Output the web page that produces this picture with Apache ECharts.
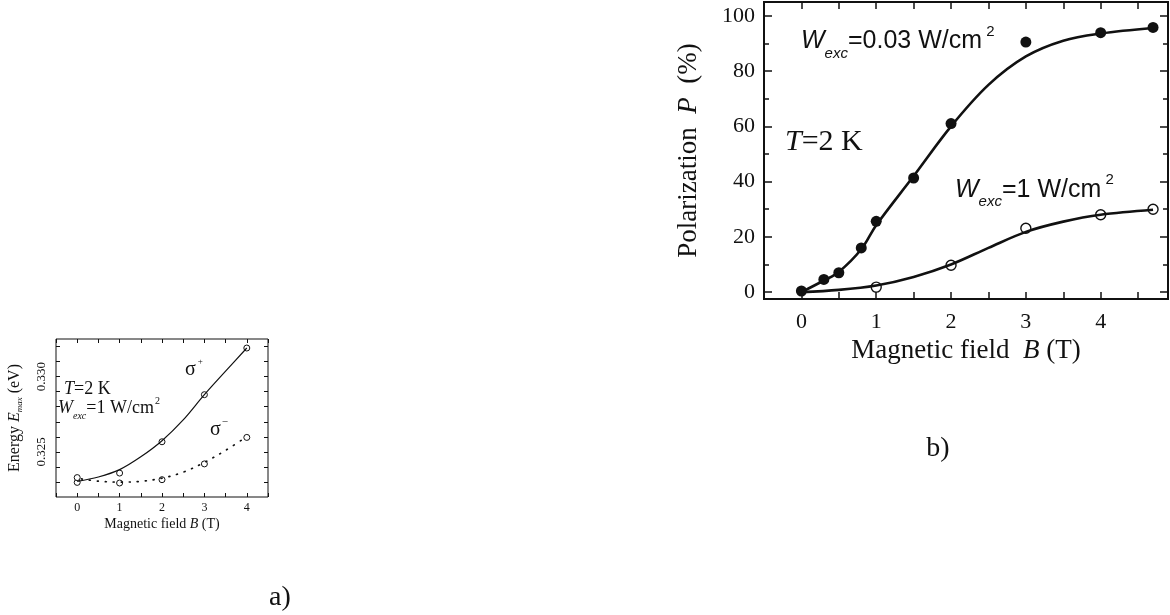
<!DOCTYPE html>
<html>
<head>
<meta charset="utf-8">
<script src="https://cdn.jsdelivr.net/npm/echarts@6/dist/echarts.min.js"></script>
<style>
html,body{margin:0;padding:0;background:#fff}
#chart{width:1170px;height:615px}
</style>
</head>
<body>
<div id="chart"></div>
<script>
// panel a) peak energy vs magnetic field
var aPlusB = [0, 1, 2, 3, 4];
var aPlusE = [0.32297, 0.32359, 0.32567, 0.3288, 0.3319];
var aMinusB = [0, 1, 2, 3, 4];
var aMinusE = [0.32329, 0.32293, 0.32315, 0.3242, 0.32596];
var aPlusFitB = [0, 0.5, 1, 1.5, 2, 2.5, 3, 3.5, 4];
var aPlusFitE = [0.32304, 0.32333, 0.32382, 0.32467, 0.32574, 0.32712, 0.3288, 0.33036, 0.3319];
var aMinusFitB = [0.1, 0.5, 1, 1.5, 2, 2.5, 3, 3.5, 3.95];
var aMinusFitE = [0.3232, 0.32305, 0.32299, 0.32304, 0.32325, 0.32365, 0.3243, 0.3251, 0.32592];
var aTickX = [-0.5, 0, 0.5, 1, 1.5, 2, 2.5, 3, 3.5, 4, 4.5];
var aLabelX = [0, 1, 2, 3, 4];
var aTickY = [0.323, 0.324, 0.325, 0.326, 0.327, 0.328, 0.329, 0.330, 0.331, 0.332];
var aLabelY = [0.325, 0.330];

// panel b) polarization vs magnetic field
var bFilledB = [0, 0.3, 0.5, 0.8, 1, 1.5, 2, 3, 4, 4.7];
var bFilledP = [0.4, 4.6, 7, 16, 25.6, 41.3, 61, 90.5, 93.9, 95.8];
var bOpenB = [1, 2, 3, 4, 4.7];
var bOpenP = [1.8, 9.7, 23.1, 28, 30];
var bFilledFitB = [0, 0.3, 0.5, 0.8, 1, 1.5, 2, 2.5, 3, 3.5, 4, 4.7];
var bFilledFitP = [0, 4.2, 7.3, 15.5, 24.2, 42, 60, 75, 85.3, 91, 93.6, 95.6];
var bOpenFitB = [0, 0.5, 1, 1.5, 2, 2.5, 3, 3.5, 4, 4.7];
var bOpenFitP = [0, 0.8, 2.4, 5.5, 10, 16, 21.8, 25.5, 28, 29.8];
var bTickX = [0, 0.5, 1, 1.5, 2, 2.5, 3, 3.5, 4, 4.5];
var bLabelX = [0, 1, 2, 3, 4];
var bMajorY = [0, 20, 40, 60, 80, 100];
var bMinorY = [10, 30, 50, 70, 90];

var serif = '"Liberation Serif", "Times New Roman", serif';
var sans = '"Liberation Sans", Arial, sans-serif';
var ink = '#111';

function pairs(xs, ys) {
	var out = [];
	for (var i = 0; i < xs.length; i++) {
		out.push([xs[i], ys[i]]);
	}
	return out;
}

function tickAxis(grid, pos, min, max, ticks, len, width, labels, extra) {
	var ax = {
		gridIndex: grid,
		type: 'value',
		position: pos,
		min: min,
		max: max,
		axisLine: {show: false, onZero: false},
		splitLine: {show: false},
		axisTick: {show: true, inside: true, length: len, customValues: ticks,
			lineStyle: {color: ink, width: width}},
		axisLabel: {show: false}
	};
	if (labels) {
		ax.axisLabel = labels;
	}
	for (var k in (extra || {})) {
		ax[k] = extra[k];
	}
	return ax;
}

var chart = echarts.init(document.getElementById('chart'));

var option = {
	animation: false,
	backgroundColor: '#fff',
	grid: [
		{left: 56, top: 339, width: 212, height: 158, show: true, borderColor: ink, borderWidth: 1,
			backgroundColor: 'transparent', outerBoundsMode: 'none'},
		{left: 764, top: 2, width: 404, height: 297, show: true, borderColor: ink, borderWidth: 2,
			backgroundColor: 'transparent', outerBoundsMode: 'none'}
	],
	xAxis: [
		tickAxis(0, 'bottom', -0.5, 4.5, aTickX, 4, 1, {
			show: true, customValues: aLabelX, margin: 5, color: ink,
			fontFamily: serif, fontSize: 12
		}, {
			name: 'Magnetic field {i|B} (T)', nameLocation: 'middle', nameGap: 20,
			nameTextStyle: {color: ink, fontFamily: serif, fontSize: 14,
				rich: {i: {fontFamily: serif, fontSize: 14, fontStyle: 'italic', color: ink}}}
		}),
		tickAxis(0, 'top', -0.5, 4.5, aTickX, 4, 1),
		tickAxis(1, 'bottom', -0.5, 4.9, bTickX, 7, 1.5, {
			show: true, customValues: bLabelX, margin: 12, color: ink,
			fontFamily: serif, fontSize: 22
		}, {
			name: 'Magnetic field  {i|B} (T)', nameLocation: 'middle', nameGap: 38,
			nameTextStyle: {color: ink, fontFamily: serif, fontSize: 27,
				rich: {i: {fontFamily: serif, fontSize: 27, fontStyle: 'italic', color: ink}}}
		}),
		tickAxis(1, 'top', -0.5, 4.9, bTickX, 7, 1.5)
	],
	yAxis: [
		tickAxis(0, 'left', 0.322, 0.3325, aTickY, 4, 1, {
			show: true, customValues: aLabelY, margin: 8, rotate: 90, color: ink,
			fontFamily: serif, fontSize: 13,
			formatter: function (v) { return v.toFixed(3); }
		}, {
			name: 'Energy {i|E}{s|max} (eV)', nameLocation: 'middle', nameGap: 32,
			nameTextStyle: {color: ink, fontFamily: serif, fontSize: 16,
				rich: {
					i: {fontFamily: serif, fontSize: 16, fontStyle: 'italic', color: ink},
					s: {fontFamily: serif, fontSize: 9, fontStyle: 'italic', color: ink, padding: [10, 0, 0, 0]}
				}}
		}),
		tickAxis(0, 'right', 0.322, 0.3325, aTickY, 4, 1),
		tickAxis(1, 'left', -2.5, 105, bMajorY, 8, 1.5, {
			show: true, customValues: bMajorY, margin: 9, color: ink,
			fontFamily: serif, fontSize: 22
		}, {
			name: 'Polarization  {i|P}  (%)', nameLocation: 'middle', nameGap: 62,
			nameTextStyle: {color: ink, fontFamily: serif, fontSize: 27,
				rich: {i: {fontFamily: serif, fontSize: 27, fontStyle: 'italic', color: ink}}}
		}),
		tickAxis(1, 'left', -2.5, 105, bMinorY, 5, 1.5),
		tickAxis(1, 'right', -2.5, 105, bMajorY, 8, 1.5),
		tickAxis(1, 'right', -2.5, 105, bMinorY, 5, 1.5)
	],
	series: [
		{type: 'line', xAxisIndex: 0, yAxisIndex: 0, data: pairs(aPlusFitB, aPlusFitE),
			smooth: 0.35, symbol: 'none', lineStyle: {color: ink, width: 1.2}},
		{type: 'line', xAxisIndex: 0, yAxisIndex: 0, data: pairs(aMinusFitB, aMinusFitE),
			smooth: 0.35, symbol: 'none',
			lineStyle: {color: ink, width: 1.7, type: [1, 7], cap: 'round'}},
		{type: 'scatter', xAxisIndex: 0, yAxisIndex: 0, data: pairs(aPlusB, aPlusE),
			symbol: 'circle', symbolSize: 6, itemStyle: {color: '#fff', borderColor: ink, borderWidth: 1, opacity: 1}},
		{type: 'scatter', xAxisIndex: 0, yAxisIndex: 0, data: pairs(aMinusB, aMinusE),
			symbol: 'circle', symbolSize: 6, itemStyle: {color: '#fff', borderColor: ink, borderWidth: 1, opacity: 1}},
		{type: 'line', xAxisIndex: 2, yAxisIndex: 2, data: pairs(bFilledFitB, bFilledFitP),
			smooth: 0.35, symbol: 'none', lineStyle: {color: ink, width: 2.6}},
		{type: 'line', xAxisIndex: 2, yAxisIndex: 2, data: pairs(bOpenFitB, bOpenFitP),
			smooth: 0.35, symbol: 'none', lineStyle: {color: ink, width: 2.6}},
		{type: 'scatter', xAxisIndex: 2, yAxisIndex: 2, data: pairs(bFilledB, bFilledP),
			symbol: 'circle', symbolSize: 11, itemStyle: {color: ink, opacity: 1}},
		{type: 'scatter', xAxisIndex: 2, yAxisIndex: 2, data: pairs(bOpenB, bOpenP),
			symbol: 'circle', symbolSize: 10, itemStyle: {color: '#fff', borderColor: ink, borderWidth: 1.4, opacity: 1}}
	],
	graphic: [
		// panel a annotations
		{type: 'text', x: 64, y: 389, style: {
			text: '{i|T}{n|=2 K}', align: 'left', verticalAlign: 'middle',
			rich: {
				i: {fontFamily: serif, fontSize: 18, fontStyle: 'italic', fill: ink},
				n: {fontFamily: serif, fontSize: 18, fill: ink}
			}}},
		{type: 'text', x: 58, y: 408, style: {
			text: '{i|W}{s|exc}{n|=1 W/cm}{p|2}', align: 'left', verticalAlign: 'middle',
			rich: {
				i: {fontFamily: serif, fontSize: 18, fontStyle: 'italic', fill: ink},
				s: {fontFamily: serif, fontSize: 10, fontStyle: 'italic', fill: ink, padding: [16, 0, 0, 0]},
				n: {fontFamily: serif, fontSize: 18, fill: ink},
				p: {fontFamily: serif, fontSize: 10, fill: ink, padding: [0, 0, 14, 1]}
			}}},
		{type: 'text', x: 185, y: 370, style: {
			text: '{g|σ}{p|+}', align: 'left', verticalAlign: 'middle',
			rich: {
				g: {fontFamily: serif, fontSize: 20, fill: ink},
				p: {fontFamily: serif, fontSize: 9, fill: ink, padding: [0, 0, 16, 2]}
			}}},
		{type: 'text', x: 210, y: 430, style: {
			text: '{g|σ}{p|−}', align: 'left', verticalAlign: 'middle',
			rich: {
				g: {fontFamily: serif, fontSize: 20, fill: ink},
				p: {fontFamily: serif, fontSize: 11, fill: ink, padding: [0, 0, 16, 1]}
			}}},
		{type: 'text', x: 280, y: 598, style: {
			text: 'a)', align: 'center', verticalAlign: 'middle',
			fontFamily: serif, fontSize: 28, fill: ink}},
		// panel b annotations
		{type: 'text', x: 801, y: 41.5, style: {
			text: '{i|W}{s|exc}{n|=0.03 W/cm}{p| 2}', align: 'left', verticalAlign: 'middle',
			rich: {
				i: {fontFamily: sans, fontSize: 25, fontStyle: 'italic', fill: ink},
				s: {fontFamily: sans, fontSize: 15, fontStyle: 'italic', fill: ink, padding: [24, 0, 0, 0]},
				n: {fontFamily: sans, fontSize: 25, fill: ink},
				p: {fontFamily: sans, fontSize: 15, fill: ink, padding: [0, 0, 20, 0]}
			}}},
		{type: 'text', x: 955, y: 190, style: {
			text: '{i|W}{s|exc}{n|=1 W/cm}{p| 2}', align: 'left', verticalAlign: 'middle',
			rich: {
				i: {fontFamily: sans, fontSize: 25, fontStyle: 'italic', fill: ink},
				s: {fontFamily: sans, fontSize: 15, fontStyle: 'italic', fill: ink, padding: [24, 0, 0, 0]},
				n: {fontFamily: sans, fontSize: 25, fill: ink},
				p: {fontFamily: sans, fontSize: 15, fill: ink, padding: [0, 0, 20, 0]}
			}}},
		{type: 'text', x: 785, y: 142, style: {
			text: '{i|T}{n|=2 K}', align: 'left', verticalAlign: 'middle',
			rich: {
				i: {fontFamily: serif, fontSize: 30, fontStyle: 'italic', fill: ink},
				n: {fontFamily: serif, fontSize: 30, fill: ink}
			}}},
		{type: 'text', x: 938, y: 449, style: {
			text: 'b)', align: 'center', verticalAlign: 'middle',
			fontFamily: serif, fontSize: 28, fill: ink}}
	]
};

chart.setOption(option);
</script>
</body>
</html>
